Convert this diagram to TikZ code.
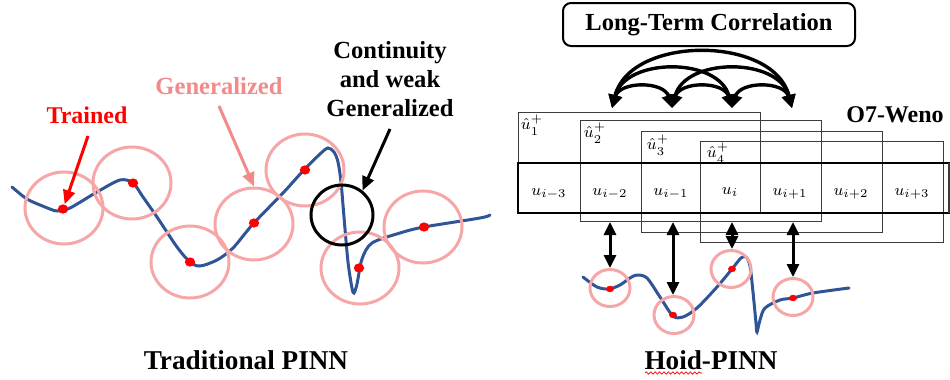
\documentclass[tikz,border=0pt]{standalone}
\usepackage{fontspec}
\setmainfont{Liberation Serif}[BoldFont={Liberation Serif Bold}]
\usetikzlibrary{shapes.geometric,arrows.meta,decorations.pathmorphing}

\definecolor{curveblue}{RGB}{47,85,151}
\definecolor{ringpink}{RGB}{246,166,166}
\definecolor{labelpink}{RGB}{242,138,138}
\definecolor{boxgray}{RGB}{60,60,60}

\begin{document}
\begin{tikzpicture}[x=0.5pt,y=-0.5pt,
  wave/.style={curveblue,line width=1.5pt,line cap=round},
  ring/.style={ellipse,draw=ringpink,line width=1.5pt,inner sep=0pt,minimum width=39pt,minimum height=36pt},
  smallring/.style={ellipse,draw=ringpink,line width=1.5pt,inner sep=0pt,minimum width=20pt,minimum height=18.5pt},
  blackring/.style={ellipse,draw=black,line width=1.5pt,inner sep=0pt,minimum width=31pt,minimum height=30pt},
  dot/.style={ellipse,fill=red,inner sep=0pt,minimum width=5.2pt,minimum height=4.6pt},
  smalldot/.style={ellipse,fill=red,inner sep=0pt,minimum width=4pt,minimum height=3.2pt},
  bold/.style={font=\bfseries\fontsize{#1}{#1}\selectfont,inner sep=0pt},
  pointer/.style={line width=1.5pt,-{Triangle[length=7pt,width=6pt]}},
  corr/.style={line width=1.7pt,{Triangle[length=6.5pt,width=6.5pt]}-{Triangle[length=6.5pt,width=6.5pt]}},
  link/.style={line width=1.5pt,{Triangle[length=6.5pt,width=6pt]}-{Triangle[length=6.5pt,width=6pt]}},
  win/.style={draw=boxgray,line width=0.6pt,inner sep=0pt,anchor=north west},
  hatlab/.style={font=\fontsize{8}{9}\selectfont,inner sep=0pt},
  celllab/.style={font=\fontsize{8}{9}\selectfont,inner sep=0pt}
]
\useasboundingbox (0,0) rectangle (950,380);

% ---------------- Traditional PINN ----------------
\draw[wave] plot[smooth,tension=0.5] coordinates {
  (12,187) (27,199) (45,207) (57,211) (70,208) (97,192) (120,180) (133,183)
  (143,197) (157,217) (177,247) (190,262) (200,266) (217,260) (233,248)
  (253,224) (283,193) (303,171) (320,154) (328,148) (334,152) (338,162)
  (341,182) (344,217) (348,262) (352,288) (354,293) (357,284) (362,259)
  (372,243) (400,233) (424,227) (480,218) (490,215)};

\node[ring] (c1) at (64,208) {};
\node[ring] (c2) at (132,183) {};
\node[ring] (c3) at (190,262) {};
\node[ring] (c4) at (254,224) {};
\node[ring] (c5) at (305,170) {};
\node[ring] (c6) at (360,268) {};
\node[ring] (c7) at (423,227) {};
\node[blackring] (bc) at (342,215) {};

\node[dot] (d1) at (63,209) {};
\node[dot] (d2) at (133,183) {};
\node[dot] (d3) at (190,262) {};
\node[dot] (d4) at (254,223) {};
\node[dot] (d5) at (305,170) {};
\node[dot] (d6) at (359,268) {};
\node[dot] (d7) at (424,227) {};

\node[bold=12,text=red] (trained) at (87,115) {Trained};
\node[bold=12.3,text=labelpink] (gen) at (219,86) {Generalized};
\node[bold=12.3,align=center] (cont) at (390,79)
  {Continuity\\[2.4pt]and weak\\[2.4pt]Generalized};

\coordinate (ta) at (88,136);
\coordinate (ga) at (219,106);
\coordinate (ka) at (390,129);
\draw[pointer,red] (ta) -- (d1);
\draw[pointer,labelpink] (ga) -- (c4.north);
\draw[pointer,black] (ka) -- (bc.50);

\node[bold=13.6] (trad) at (246,360) {Traditional PINN};

% ---------------- Hoid-PINN ----------------
\node[draw,line width=1pt,rounded corners=4pt,minimum width=146pt,minimum height=21.5pt,
      bold=12.25] (ltc) at (709,24.5) {Long-Term Correlation};

\node[bold=12] (weno) at (895,115) {O7-Weno};

% overlapping stencil windows
\node[win,minimum width=121pt,minimum height=50.5pt] (w1) at (518,112) {};
\node[win,minimum width=120.5pt,minimum height=50.5pt] (w2) at (580,120) {};
\node[win,minimum width=120.5pt,minimum height=50.5pt] (w3) at (641,131) {};
\node[win,minimum width=121.5pt,minimum height=50.5pt] (w4) at (700,141) {};

\node[hatlab] at ([xshift=7pt,yshift=-6.5pt]w1.north west) {$\hat{u}_1^{+}$};
\node[hatlab] at ([xshift=7.5pt,yshift=-6.5pt]w2.north west) {$\hat{u}_2^{+}$};
\node[hatlab] at ([xshift=8.5pt,yshift=-7pt]w3.north west) {$\hat{u}_3^{+}$};
\node[hatlab] at ([xshift=9pt,yshift=-6pt]w4.north west) {$\hat{u}_4^{+}$};

% cell row
\draw[line width=1.4pt] (955,163) -- (518,163) -- (518,213) -- (955,213);
\draw[boxgray,line width=0.6pt] (949,163) -- (949,213);

\node[celllab] (u1) at (549,194) {$u_{i-3}$};
\node[celllab] (u2) at (610,194) {$u_{i-2}$};
\node[celllab] (u3) at (671,194) {$u_{i-1}$};
\node[celllab] (u4) at (730,192) {$u_{i}$};
\node[celllab] (u5) at (790,194) {$u_{i+1}$};
\node[celllab] (u6) at (851,194) {$u_{i+2}$};
\node[celllab] (u7) at (912,194) {$u_{i+3}$};

% correlation arcs
\coordinate (t1) at (612,108);
\coordinate (t2) at (672,108);
\coordinate (t3) at (732,108);
\coordinate (t4) at (792,108);
\draw[corr] (t1) .. controls (630,35) and (774,35) .. (t4);
\draw[corr] (t1) .. controls (625,57) and (719,57) .. (t3);
\draw[corr] (t2) .. controls (685,57) and (779,57) .. (t4);
\draw[corr] (t1) .. controls (620,81) and (664,81) .. (t2);
\draw[corr] (t2) .. controls (680,81) and (724,81) .. (t3);
\draw[corr] (t3) .. controls (740,81) and (784,81) .. (t4);

% small curve
\draw[wave] plot[smooth,tension=0.5] coordinates {
  (583,277) (597,287) (609,289) (620,285) (630,278) (637,275) (647,278)
  (660,297) (673,316) (683,317) (697,308) (717,287) (732,269) (741,258)
  (746,257) (750,266) (753,292) (756,323) (757,332) (760,320) (765,308)
  (780,300) (793,298) (813,293) (849,288)};

\node[smallring] (r1) at (610,288) {};
\node[smallring] (r2) at (674,315) {};
\node[smallring] (r3) at (731,269) {};
\node[smallring] (r4) at (793,297) {};

\node[smalldot] (s1) at (610,289) {};
\node[smalldot] (s2) at (673,315) {};
\node[smalldot] (s3) at (732,269) {};
\node[smalldot] (s4) at (793,298) {};

\coordinate (wb) at (0,222);
\draw[link] (r1.north |- wb) -- (r1.north);
\draw[link] (s2 |- wb) -- (s2 |- r2.north);
\draw[link] (s3 |- wb) -- (s3 |- r3.north);
\draw[link] (r4.north |- wb) -- (r4.north);

\node[bold=13.6] (hoid) at (711,360) {Hoid-PINN};
\draw[red,line width=0.35pt,decorate,decoration={snake,amplitude=0.6pt,segment length=2.2pt}]
  (645,373) -- (702,373);
\end{tikzpicture}
\end{document}
